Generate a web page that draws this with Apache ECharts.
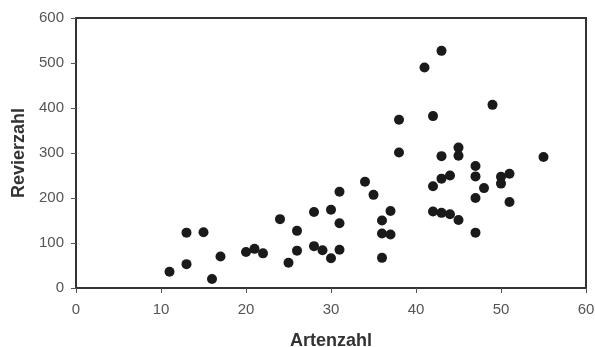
<!DOCTYPE html>
<html>
<head>
<meta charset="utf-8">
<script src="https://cdn.jsdelivr.net/npm/echarts@6/dist/echarts.min.js"></script>
<style>
  html, body { margin: 0; padding: 0; background: #fff; }
  #chart { width: 595px; height: 347px; }
</style>
</head>
<body>
<div id="chart"></div>
<script>
// Artenzahl (x) vs Revierzahl (y)
const artenzahl = [11, 13, 13, 15, 16, 17, 20, 21, 22, 24, 25, 26, 26, 28, 28, 29, 30, 30,
  31, 31, 31, 34, 35, 36, 36, 36, 37, 37, 38, 38, 41, 42, 42, 42, 43, 43, 43, 43,
  44, 44, 45, 45, 45, 47, 47, 47, 47, 48, 49, 50, 50, 51, 51, 55];
const revierzahl = [36, 123, 53, 124, 20, 70, 80, 87, 77, 153, 56, 127, 83, 169, 93, 84, 174, 66,
  214, 144, 85, 236, 207, 150, 121, 67, 171, 119, 374, 301, 490, 382, 226, 170, 527, 293, 243, 167,
  250, 164, 312, 294, 151, 271, 248, 200, 123, 222, 407, 247, 232, 254, 191, 291];
const xTicks = [0, 10, 20, 30, 40, 50, 60];
const yTicks = [0, 100, 200, 300, 400, 500, 600];

const points = artenzahl.map((x, i) => [x, revierzahl[i]]);

const chart = echarts.init(document.getElementById('chart'));

const axisCommon = {
  type: 'value',
  nameLocation: 'middle',
  nameTextStyle: {
    fontFamily: 'Liberation Sans',
    fontWeight: 'bold',
    fontSize: 18,
    color: '#333'
  },
  axisLine: { show: true, lineStyle: { color: '#333', width: 2 } },
  axisTick: { show: true, inside: false, length: 5, lineStyle: { color: '#555', width: 1 } },
  axisLabel: {
    fontFamily: 'Liberation Sans',
    fontSize: 15,
    color: '#555'
  },
  splitLine: { show: false }
};

chart.setOption({
  animation: false,
  backgroundColor: '#fff',
  grid: {
    left: 76,
    right: 9,
    top: 18,
    bottom: 59,
    outerBoundsMode: 'none',
    show: true,
    borderColor: '#333',
    borderWidth: 2,
    backgroundColor: 'transparent'
  },
  xAxis: Object.assign({}, axisCommon, {
    name: 'Artenzahl',
    nameGap: 44,
    min: xTicks[0],
    max: xTicks[xTicks.length - 1],
    interval: 10,
    axisLabel: Object.assign({}, axisCommon.axisLabel, { margin: 14 })
  }),
  yAxis: Object.assign({}, axisCommon, {
    name: 'Revierzahl',
    nameGap: 48,
    min: yTicks[0],
    max: yTicks[yTicks.length - 1],
    interval: 100,
    axisLabel: Object.assign({}, axisCommon.axisLabel, { margin: 12 })
  }),
  series: [
    {
      type: 'scatter',
      data: points,
      symbol: 'circle',
      symbolSize: 10,
      itemStyle: { color: '#1a1a1a', opacity: 1 }
    }
  ]
});
</script>
</body>
</html>
